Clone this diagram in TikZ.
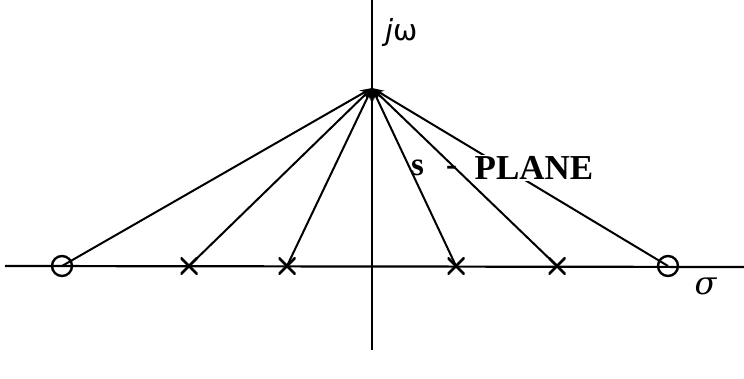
\documentclass[tikz,border=0pt]{standalone}
\usepackage{fontspec}
\setmainfont{Liberation Serif}
\usetikzlibrary{arrows.meta}
\begin{document}
\begin{tikzpicture}[x=1pt,y=-1pt,
  axis/.style={line width=2.2pt},
  ray/.style={line width=2pt,-{Stealth[length=12pt,width=8pt]}},
  zero/.style={circle,draw,line width=2.4pt,minimum size=20pt,inner sep=0pt},
  pole/.style={minimum size=17pt,inner sep=0pt,path picture={
    \draw[line width=2.8pt] (path picture bounding box.south west)--(path picture bounding box.north east)
      (path picture bounding box.north west)--(path picture bounding box.south east);}}]
\useasboundingbox (0,0) rectangle (744,379);
\coordinate (top) at (372,0);
\coordinate (bot) at (372,350);
\coordinate (left) at (5,266);
\coordinate (right) at (744,267);
\coordinate (apex) at (372,88);
\draw[axis] (left) -- (right);
\draw[axis] (top) -- (bot);
\node[zero] (z1) at (62,266) {};
\node[pole] (p1) at (189,266) {};
\node[pole] (p2) at (287,266) {};
\node[pole] (p3) at (456,266) {};
\node[pole] (p4) at (557,266) {};
\node[zero] (z2) at (668,266) {};
\foreach \n in {z1,p1,p2,p3,p4,z2} \draw[ray] (\n.center) -- (apex);
\node[anchor=west,inner sep=0pt] (jw) at (385,33) {\fontspec{DejaVu Sans}\fontsize{29}{31}\selectfont\textit{j}ω};
\node[inner sep=0pt] (sig) at (706,286) {\fontspec{DejaVu Serif}\fontsize{32}{34}\selectfont\textit{σ}};
\node[anchor=west,inner sep=0pt] (s) at (411,168) {\fontsize{33}{36}\selectfont\bfseries s\hspace{22pt}-};
\node[anchor=west,fill=white,inner sep=1.5pt] (plane) at (473,168) {\fontsize{35}{38}\selectfont\bfseries PLANE};
\end{tikzpicture}
\end{document}
